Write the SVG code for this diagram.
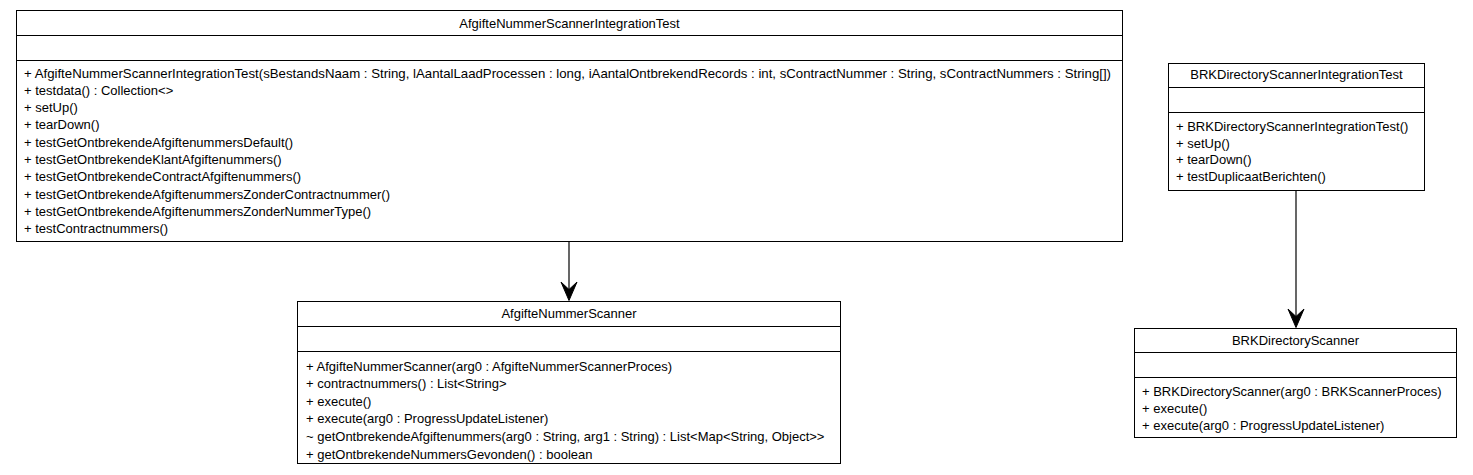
<svg xmlns="http://www.w3.org/2000/svg" width="1473" height="475" viewBox="0 0 1473 475">
<style>
text{font-family:"Liberation Sans",Arial,sans-serif;font-size:13px;fill:#000}
.t{text-anchor:middle}
.box{fill:#fff;stroke:#000;stroke-width:1}
.sep{stroke:#000;stroke-width:1}
.edge{stroke:#000;stroke-width:1.2;fill:none}
.head{fill:#000;stroke:#000;stroke-width:1}
</style>
<rect width="1473" height="475" fill="#fff"/>
<g id="AfgifteNummerScannerIntegrationTest">
<rect class="box" x="16.5" y="10.5" width="1106" height="231"/>
<line class="sep" x1="16.5" y1="35.5" x2="1122.5" y2="35.5"/>
<line class="sep" x1="16.5" y1="60.5" x2="1122.5" y2="60.5"/>
<text class="t" x="569.5" y="27.5">AfgifteNummerScannerIntegrationTest</text>
<text x="24" y="77.5" textLength="1087" lengthAdjust="spacingAndGlyphs">+ AfgifteNummerScannerIntegrationTest(sBestandsNaam : String, lAantalLaadProcessen : long, iAantalOntbrekendRecords : int, sContractNummer : String, sContractNummers : String[])</text>
<text x="24" y="94.8">+ testdata() : Collection&lt;&gt;</text>
<text x="24" y="112.1">+ setUp()</text>
<text x="24" y="129.4">+ tearDown()</text>
<text x="24" y="146.7">+ testGetOntbrekendeAfgiftenummersDefault()</text>
<text x="24" y="164">+ testGetOntbrekendeKlantAfgiftenummers()</text>
<text x="24" y="181.3">+ testGetOntbrekendeContractAfgiftenummers()</text>
<text x="24" y="198.6">+ testGetOntbrekendeAfgiftenummersZonderContractnummer()</text>
<text x="24" y="215.9">+ testGetOntbrekendeAfgiftenummersZonderNummerType()</text>
<text x="24" y="233.2">+ testContractnummers()</text>
</g>
<g id="AfgifteNummerScanner">
<rect class="box" x="297.5" y="301.5" width="543" height="162"/>
<line class="sep" x1="297.5" y1="326.5" x2="840.5" y2="326.5"/>
<line class="sep" x1="297.5" y1="351.5" x2="840.5" y2="351.5"/>
<text class="t" x="569" y="318">AfgifteNummerScanner</text>
<text x="306" y="370.5">+ AfgifteNummerScanner(arg0 : AfgifteNummerScannerProces)</text>
<text x="306" y="388.1">+ contractnummers() : List&lt;String&gt;</text>
<text x="306" y="405.7">+ execute()</text>
<text x="306" y="423.3">+ execute(arg0 : ProgressUpdateListener)</text>
<text x="306" y="440.9">~ getOntbrekendeAfgiftenummers(arg0 : String, arg1 : String) : List&lt;Map&lt;String, Object&gt;&gt;</text>
<text x="306" y="458.5">+ getOntbrekendeNummersGevonden() : boolean</text>
</g>
<g id="BRKDirectoryScannerIntegrationTest">
<rect class="box" x="1168.5" y="63.5" width="256" height="127"/>
<line class="sep" x1="1168.5" y1="87.5" x2="1424.5" y2="87.5"/>
<line class="sep" x1="1168.5" y1="112.5" x2="1424.5" y2="112.5"/>
<text class="t" x="1296.5" y="78.5">BRKDirectoryScannerIntegrationTest</text>
<text x="1176" y="130.5">+ BRKDirectoryScannerIntegrationTest()</text>
<text x="1176" y="147.5">+ setUp()</text>
<text x="1176" y="164">+ tearDown()</text>
<text x="1176" y="181">+ testDuplicaatBerichten()</text>
</g>
<g id="BRKDirectoryScanner">
<rect class="box" x="1134.5" y="328.5" width="322" height="109"/>
<line class="sep" x1="1134.5" y1="352.5" x2="1456.5" y2="352.5"/>
<line class="sep" x1="1134.5" y1="377.5" x2="1456.5" y2="377.5"/>
<text class="t" x="1295.5" y="344.5">BRKDirectoryScanner</text>
<text x="1142" y="395.5">+ BRKDirectoryScanner(arg0 : BRKScannerProces)</text>
<text x="1142" y="412.5">+ execute()</text>
<text x="1142" y="429.5">+ execute(arg0 : ProgressUpdateListener)</text>
</g>
<g id="connectors">
<line class="edge" x1="569" y1="242" x2="569" y2="296"/>
<polygon class="head" points="569,300.5 561,282 569,289.5 577,282"/>
<line class="edge" x1="1296" y1="191" x2="1296" y2="323"/>
<polygon class="head" points="1296,327.5 1288,309 1296,316.5 1304,309"/>
</g>
</svg>
